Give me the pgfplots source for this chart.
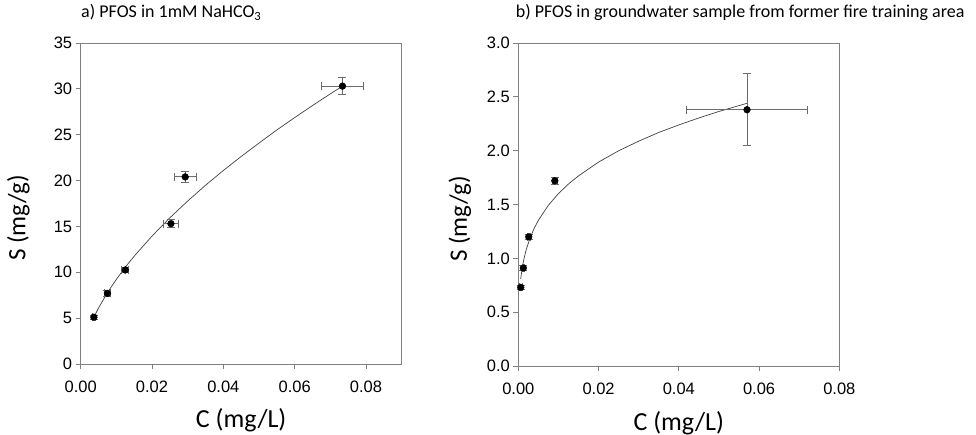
\documentclass[border=0pt]{standalone}
\usepackage{pgfplots}
\usepackage{pgfplotstable}
\pgfplotsset{compat=1.18}
\usepackage{fontspec}
\setmainfont{Carlito}
\newfontfamily\arial{Liberation Sans}

% measured points, x err / y err are half widths
\pgfplotstableread{
x       y      ex      ey
0.0037  5.10   0.0005  0.20
0.0075  7.70   0.0008  0.30
0.0125  10.25  0.0010  0.30
0.0253  15.30  0.0020  0.45
0.0293  20.40  0.0030  0.65
0.0734  30.30  0.0060  0.90
}\nahco

\pgfplotstableread{
x        y      ex      ey
0.0006   0.73   0.0003  0.02
0.00125  0.91   0.0003  0.02
0.0026   1.20   0.0003  0.02
0.0091   1.72   0.0006  0.03
0.0570   2.38   0.0150  0.333
}\gw

% fitted curves
\pgfplotstableread{
x       y
0.0037  5.11
0.005   6.11
0.0075  7.78
0.01    9.23
0.0125  10.55
0.015   11.76
0.02    13.95
0.025   15.94
0.03    17.77
0.035   19.49
0.04    21.10
0.045   22.63
0.05    24.09
0.055   25.52
0.06    26.87
0.065   28.18
0.07    29.46
0.0734  30.29
}\nahcofit

\pgfplotstableread{
x       y
0.0006  0.810
0.001   0.917
0.0015  1.011
0.002   1.084
0.003   1.197
0.004   1.282
0.005   1.353
0.0075  1.493
0.01    1.601
0.0125  1.690
0.015   1.766
0.02    1.894
0.025   1.999
0.03    2.088
0.035   2.169
0.04    2.239
0.045   2.304
0.05    2.364
0.057   2.440
}\gwfit

\begin{document}
\begin{tikzpicture}
\useasboundingbox (0pt,0pt) rectangle (976pt,435pt);
\pgfplotsset{
  panel/.style={
    scale only axis,
    width=321pt,
    axis line style={gray, line width=0.8pt},
    tick style={gray, line width=0.8pt},
    tick align=outside,
    major tick length=5pt,
    xtick pos=bottom, ytick pos=left,
    scaled x ticks=false, scaled y ticks=false,
    ticklabel style={font=\fontsize{16.5}{18}\selectfont\arial},
    /pgf/number format/assume math mode=true,
    x tick label style={yshift=-8pt, /pgf/number format/fixed, /pgf/number format/fixed zerofill, /pgf/number format/precision=2},
    title style={font=\fontsize{18}{20}\selectfont, at={(axis description cs:0,1)}, anchor=base west},
    xlabel style={font=\fontsize{26}{28}\selectfont, at={(axis description cs:0.5,-0.199)}, anchor=base},
    ylabel style={font=\fontsize{25}{27}\selectfont, anchor=base},
    xlabel={C (mg/L)},
    ylabel={S (mg/g)},
    clip=false,
  },
  pts/.style={only marks, mark=*, mark size=3.4pt, black,
    error bars/.cd, x dir=both, x explicit, y dir=both, y explicit,
    error bar style={gray!85!black, line width=0.8pt},
    error mark=|,
    error mark options={gray!85!black, line width=0.8pt, mark size=4pt}},
  fit/.style={no marks, line width=0.7pt, gray!50!black},
}

\begin{axis}[panel, at={(80.7pt,71pt)}, anchor=south west, height=321pt,
  xmin=0, xmax=0.09, xtick={0,0.02,0.04,0.06,0.08},
  ymin=0, ymax=35, ytick={0,5,...,35},
  title={a) PFOS in 1mM NaHCO\textsubscript{3}},
  title style={xshift=-3pt, yshift=19pt},
  ylabel style={at={(axis description cs:-0.172,0.455)}},
]
\addplot[fit] table[x=x, y=y] {\nahcofit};
\addplot[pts] table[x=x, y=y, x error=ex, y error=ey] {\nahco};
\end{axis}

\begin{axis}[panel, at={(518.3pt,69pt)}, anchor=south west, height=323pt,
  xmin=0, xmax=0.08, xtick={0,0.02,0.04,0.06,0.08},
  ymin=0, ymax=3, ytick={0,0.5,...,3},
  y tick label style={/pgf/number format/fixed, /pgf/number format/fixed zerofill, /pgf/number format/precision=1},
  title={b) PFOS in groundwater sample from former fire training area},
  title style={xshift=-6pt, yshift=19pt},
  ylabel style={at={(axis description cs:-0.16,0.455)}},
]
\addplot[fit] table[x=x, y=y] {\gwfit};
\addplot[pts] table[x=x, y=y, x error=ex, y error=ey] {\gw};
\end{axis}
\end{tikzpicture}
\end{document}
